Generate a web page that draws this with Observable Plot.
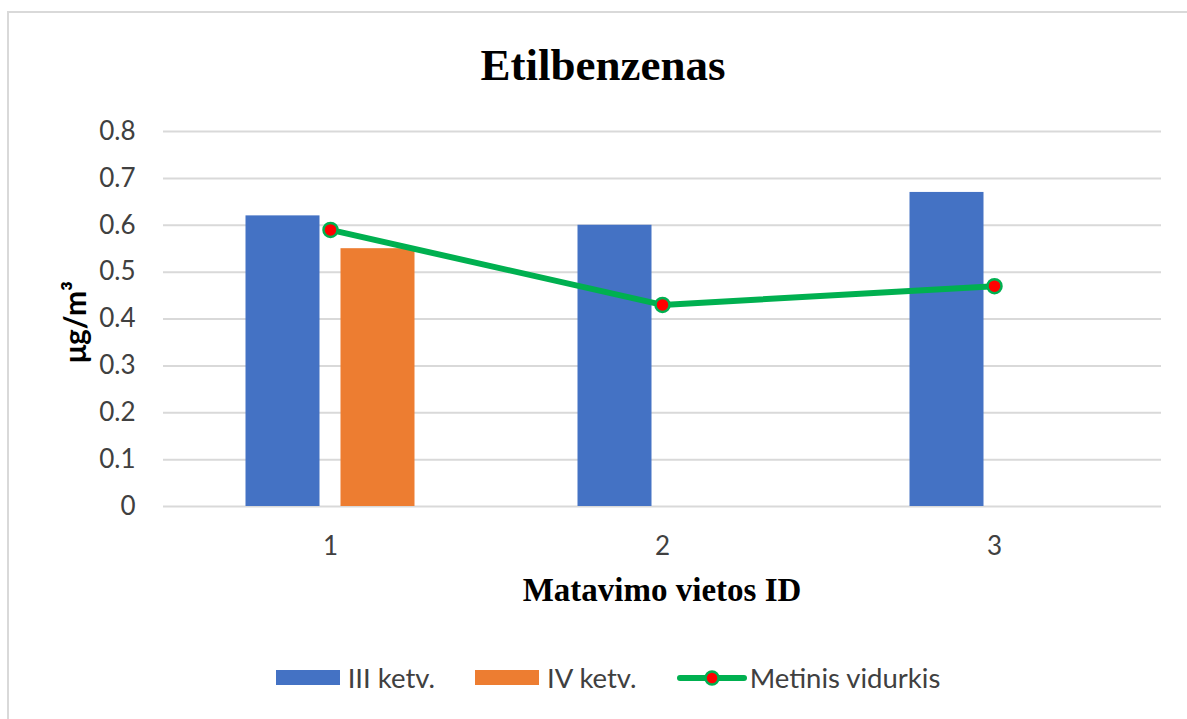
<!DOCTYPE html>
<html>
<head>
<meta charset="utf-8">
<script src="https://cdn.jsdelivr.net/npm/d3@7"></script>
<script src="https://cdn.jsdelivr.net/npm/@observablehq/plot@0.6"></script>
<style>
  html, body { margin: 0; padding: 0; background: #fff; overflow: hidden; }
  #page { position: relative; width: 1187px; height: 719px; overflow: hidden; }
  #frame { position: absolute; left: 7px; top: 11px; width: 1192px; height: 720px; border: 2px solid #d9d9d9; box-sizing: border-box; }
  #title { position: absolute; left: 7px; width: 1192px; top: 39px; text-align: center;
           font-family: "Liberation Serif", serif; font-weight: bold; font-size: 45px; line-height: 52px; color: #000; }
  #xlabel { position: absolute; left: 163px; width: 998px; top: 570px; text-align: center;
           font-family: "Liberation Serif", serif; font-weight: bold; font-size: 33px; line-height: 40px; color: #000; }
  #ylabel { position: absolute; left: 74px; top: 322px; transform: translate(-50%, -50%) rotate(-90deg);
           font-family: Lato, sans-serif; font-weight: bold; font-size: 30px; color: #000; white-space: nowrap; }
  #chart { position: absolute; left: 0; top: 0; }
  #legend { position: absolute; left: 12px; width: 1192px; top: 661px; display: flex; justify-content: center; align-items: center;
           font-family: Lato, sans-serif; font-size: 27.5px; color: #404040; }
  .item { display: flex; align-items: center; margin: 0 20px; }
  .sw { width: 64px; height: 15px; margin-right: 8px; }
</style>
</head>
<body>
<div id="page">
  <div id="frame"></div>
  <div id="title"></div>
  <div id="chart"></div>
  <div id="ylabel"></div>
  <div id="xlabel"></div>
  <div id="legend"></div>
</div>
<script>
const titleText = "Etilbenzenas";
const xTitle = "Matavimo vietos ID";
const yTitle = "μg/m³";
const categories = ["1", "2", "3"];
const seriesNames = ["III ketv.", "IV ketv.", "Metinis vidurkis"];
const valuesIII = [0.62, 0.60, 0.67];
const valuesIV = [0.55, null, null];
const annualAvg = [0.59, 0.43, 0.47];
const yTicks = [0, 0.1, 0.2, 0.3, 0.4, 0.5, 0.6, 0.7, 0.8];
const colors = {blue: "#4472c4", orange: "#ed7d31", green: "#00b050", red: "#ff0000", grid: "#d9d9d9"};

document.getElementById("title").textContent = titleText;
document.getElementById("xlabel").textContent = xTitle;
document.getElementById("ylabel").textContent = yTitle;

const dIII = categories.map((c, i) => ({cat: c, v: valuesIII[i]})).filter(d => d.v != null);
const dIV = categories.map((c, i) => ({cat: c, v: valuesIV[i]})).filter(d => d.v != null);
const dAvg = categories.map((c, i) => ({cat: c, v: annualAvg[i]}));

const chart = Plot.plot({
  width: 1187,
  height: 600,
  marginTop: 131,
  marginBottom: 94,
  marginLeft: 163,
  marginRight: 26,
  style: {fontFamily: "Lato, sans-serif", fontSize: "26px", color: "#404040", background: "transparent", overflow: "visible"},
  x: {type: "band", domain: categories, padding: 0},
  y: {domain: [0, 0.8]},
  marks: [
    Plot.gridY(yTicks, {stroke: colors.grid, strokeOpacity: 1, strokeWidth: 2}),
    Plot.axisY(yTicks, {tickSize: 0, tickPadding: 28, label: null, tickFormat: d3.format("~g"), fontSize: 26}),
    Plot.axisX({tickSize: 0, tickPadding: 30, label: null, fontSize: 26}),
    Plot.barY(dIII, {x: "cat", y: "v", fill: colors.blue, dx: -47.5, insetLeft: 129, insetRight: 129}),
    Plot.barY(dIV, {x: "cat", y: "v", fill: colors.orange, dx: 47.5, insetLeft: 129, insetRight: 129}),
    Plot.line(dAvg, {x: "cat", y: "v", stroke: colors.green, strokeWidth: 6}),
    Plot.dot(dAvg, {x: "cat", y: "v", r: 7, fill: colors.red, stroke: colors.green, strokeWidth: 2.5})
  ]
});
document.getElementById("chart").appendChild(chart);

// legend
const legend = document.getElementById("legend");
function addItem(name, swatchEl) {
  const it = document.createElement("div");
  it.className = "item";
  it.appendChild(swatchEl);
  const t = document.createElement("span");
  t.textContent = name;
  it.appendChild(t);
  legend.appendChild(it);
}
function rectSwatch(color) {
  const s = document.createElement("div");
  s.className = "sw";
  s.style.background = color;
  return s;
}
addItem(seriesNames[0], rectSwatch(colors.blue));
addItem(seriesNames[1], rectSwatch(colors.orange));
const ns = "http://www.w3.org/2000/svg";
const ls = document.createElementNS(ns, "svg");
ls.setAttribute("width", 70); ls.setAttribute("height", 20);
ls.style.marginRight = "3px";
const ln = document.createElementNS(ns, "line");
ln.setAttribute("x1", 3); ln.setAttribute("x2", 67); ln.setAttribute("y1", 10); ln.setAttribute("y2", 10);
ln.setAttribute("stroke", colors.green); ln.setAttribute("stroke-width", 6); ln.setAttribute("stroke-linecap", "round");
const cc = document.createElementNS(ns, "circle");
cc.setAttribute("cx", 35); cc.setAttribute("cy", 10); cc.setAttribute("r", 6.5);
cc.setAttribute("fill", colors.red); cc.setAttribute("stroke", colors.green); cc.setAttribute("stroke-width", 2.5);
ls.appendChild(ln); ls.appendChild(cc);
addItem(seriesNames[2], ls);
</script>
</body>
</html>
